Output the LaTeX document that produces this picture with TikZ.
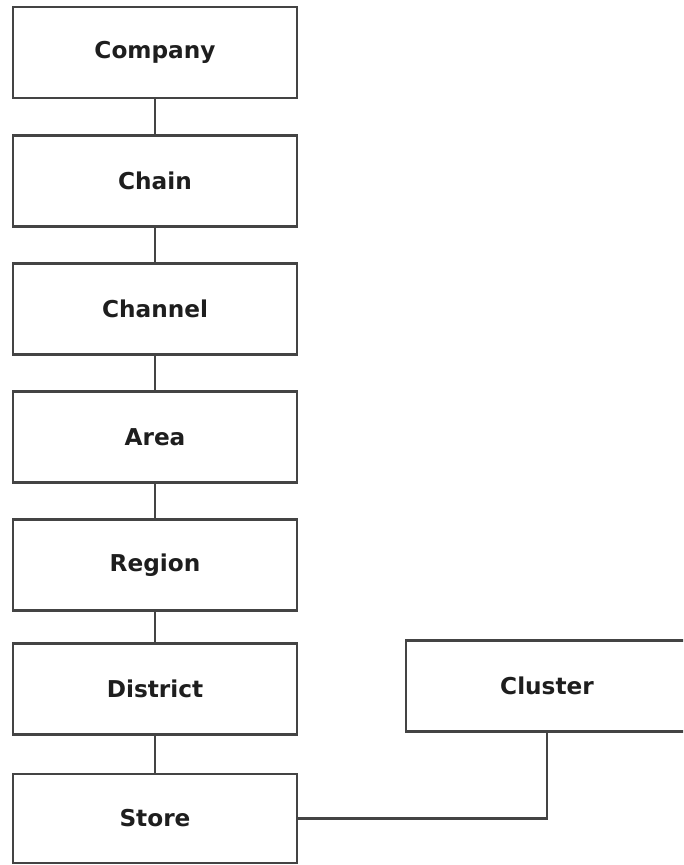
\documentclass[tikz,border=0pt]{standalone}
\usepackage{fontspec}
\setmainfont{DejaVu Sans}
\usetikzlibrary{positioning}
\definecolor{boxline}{RGB}{68,68,68}
\definecolor{labeltext}{RGB}{30,30,30}

\begin{document}
\begin{tikzpicture}[x=0.025cm,y=-0.025cm,
    levelbox/.style={draw=boxline,line width=1.6pt,fill=white,
      minimum width=7.1cm,minimum height=2.28cm,inner sep=0pt,
      text=labeltext,font=\fontsize{16.5}{20}\selectfont\bfseries},
    link/.style={draw=boxline,line width=1.6pt}]
  \clip (0,0) rectangle (683,865);
  \fill[white] (0,0) rectangle (683,865);

  % hierarchy column
  \node[levelbox] (company)  at (155,52.5) {Company};
  \node[levelbox] (chain)    at (155,181)  {Chain};
  \node[levelbox] (channel)  at (155,309)  {Channel};
  \node[levelbox] (area)     at (155,437)  {Area};
  \node[levelbox] (region)   at (155,565)  {Region};
  \node[levelbox] (district) at (155,689)  {District};
  \node[levelbox,minimum height=2.23cm] (store) at (155,818.5) {Store};

  % side box
  \node[levelbox,minimum width=7.05cm] (cluster) at (547,686) {Cluster};

  \draw[link] (company) -- (chain);
  \draw[link] (chain) -- (channel);
  \draw[link] (channel) -- (area);
  \draw[link] (area) -- (region);
  \draw[link] (region) -- (district);
  \draw[link] (district) -- (store);
  \draw[link] (store.east) -| (cluster.south);
\end{tikzpicture}
\end{document}
